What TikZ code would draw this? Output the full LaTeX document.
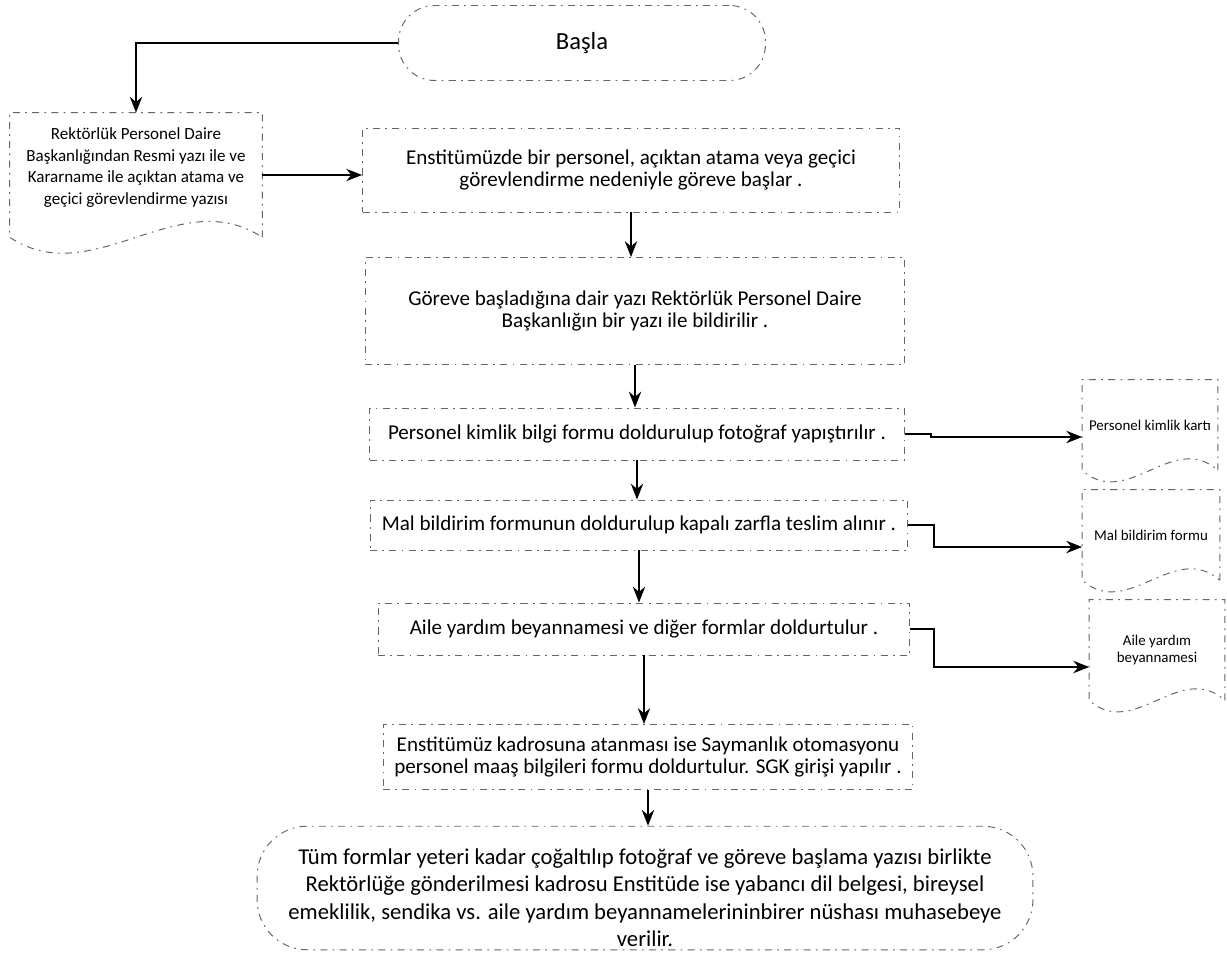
\documentclass[tikz,border=0pt]{standalone}
\usepackage{fontspec}
\setmainfont{Carlito}
\usepackage{tikz}
\usetikzlibrary{arrows.meta, positioning, calc}

% belge (document) shape: top and sides, wavy bottom edge
\newcommand{\belgecizgi}[2]{%
  \draw[kenar] (#1.south east) -- (#1.north east) -- (#1.north west) -- (#1.south west)
    .. controls ($(#1.south west)!0.33!(#1.south east)+(0,#2)$)
    and ($(#1.south west)!0.67!(#1.south east)+(0,-#2)$) .. (#1.south east);%
}

\begin{document}
\begin{tikzpicture}[
    x=0.02cm, y=-0.02cm,
    every node/.style={font=\fontsize{12}{13}\selectfont},
    kenar/.style={
        draw=black!60,
        line width=0.55pt,
        dash pattern=on 4pt off 3pt on 1pt off 3pt
    },
    kutu/.style={
        kenar,
        align=center,
        inner sep=2pt
    },
    belge/.style={
        align=center,
        inner sep=2pt
    },
    ok/.style={
        ->,
        >={Stealth[length=9pt, width=7pt]},
        line width=1.2pt
    }
]

\useasboundingbox[fill=white] (0,0) rectangle (1227,953);

% ============================================================
% BASLA
% ============================================================

\node[
    kutu,
    rounded corners=0.72cm,
    minimum width=7.34cm,
    minimum height=1.5cm,
    font=\fontsize{14}{16}\selectfont
] (basla) at (582,43)
{Başla};

% ============================================================
% REKTORLUK YAZISI
% ============================================================

\node[
    belge,
    minimum width=5.04cm,
    minimum height=2.48cm,
    font=\fontsize{9.7}{11.5}\selectfont
] (rektorluk) at (136,175)
{Rektörlük Personel Daire\\[0.8pt]
Başkanlığından Resmi yazı ile ve\\[0.8pt]
Kararname ile açıktan atama ve\\[0.8pt]
geçici görevlendirme yazısı\rule[-10pt]{0pt}{0pt}};
\belgecizgi{rektorluk}{55}

% ============================================================
% ADIMLAR
% ============================================================

\node[kutu, minimum width=10.74cm, minimum height=1.68cm] (adim1) at (631,170)
{Enstitümüzde bir personel, açıktan atama veya geçici\\
görevlendirme nedeniyle göreve başlar .};

\node[kutu, minimum width=10.8cm, minimum height=2.14cm] (adim2) at (635,311)
{Göreve başladığına dair yazı Rektörlük Personel Daire\\
Başkanlığın bir yazı ile bildirilir .};

\node[kutu, minimum width=10.7cm, minimum height=1.04cm] (adim3) at (637,434)
{Personel kimlik bilgi formu doldurulup fotoğraf yapıştırılır .};

\node[kutu, minimum width=10.76cm, minimum height=1.0cm] (adim4) at (639,525)
{Mal bildirim formunun doldurulup kapalı zarfla teslim alınır .};

\node[kutu, minimum width=10.64cm, minimum height=1.04cm] (adim5) at (644,629)
{Aile yardım beyannamesi ve diğer formlar doldurtulur .};

\node[kutu, minimum width=10.6cm, minimum height=1.3cm] (adim6) at (648,757)
{Enstitümüz kadrosuna atanması ise Saymanlık otomasyonu\\
personel maaş bilgileri formu doldurtulur. SGK girişi yapılır .};

% ============================================================
% SON
% ============================================================

\node[
    kutu,
    rounded corners=1.0cm,
    minimum width=15.52cm,
    minimum height=2.46cm,
    font=\fontsize{12.9}{13.6}\selectfont
] (son) at (645,888)
{\rule{0pt}{20pt}Tüm formlar yeteri kadar çoğaltılıp fotoğraf ve göreve başlama yazısı birlikte\\[1.8pt]
Rektörlüğe gönderilmesi kadrosu Enstitüde ise yabancı dil belgesi, bireysel\\[1.8pt]
emeklilik, sendika vs. aile yardım beyannamelerininbirer nüshası muhasebeye\\[1.8pt]
verilir.};

% ============================================================
% BELGELER
% ============================================================

\node[belge, minimum width=2.7cm, minimum height=1.8cm,
    font=\fontsize{8.5}{10}\selectfont] (kart) at (1150,425)
{Personel kimlik kartı};
\belgecizgi{kart}{40}

\node[belge, minimum width=2.74cm, minimum height=1.8cm,
    font=\fontsize{8.5}{10}\selectfont] (malform) at (1151,535)
{Mal bildirim formu};
\belgecizgi{malform}{40}

\node[belge, minimum width=2.7cm, minimum height=2.0cm,
    font=\fontsize{8.5}{10}\selectfont] (aileform) at (1157,650)
{Aile yardım\\beyannamesi};
\belgecizgi{aileform}{40}

% ============================================================
% OKLAR
% ============================================================

\draw[ok] (basla.west) -| (rektorluk.north);
\draw[ok] (rektorluk.east) -- (rektorluk.east -| adim1.west);

\draw[ok] (adim1.south) -- (adim1.south |- adim2.north);
\draw[ok] (adim2.south) -- (adim2.south |- adim3.north);
\draw[ok] (adim3.south) -- (adim3.south |- adim4.north);
\draw[ok] (adim4.south) -- (adim4.south |- adim5.north);
\draw[ok] (adim5.south) -- (adim5.south |- adim6.north);
\draw[ok] (adim6.south) -- (adim6.south |- son.north);

\draw[ok] (adim3.east) -- ++(26,0) |- ($(kart.west)+(0,12)$);
\draw[ok] (adim4.east) -- ++(26,0) |- ($(malform.west)+(0,12)$);
\draw[ok] (adim5.east) -- ++(24,0) |- ($(aileform.west)+(0,17)$);

\end{tikzpicture}
\end{document}
